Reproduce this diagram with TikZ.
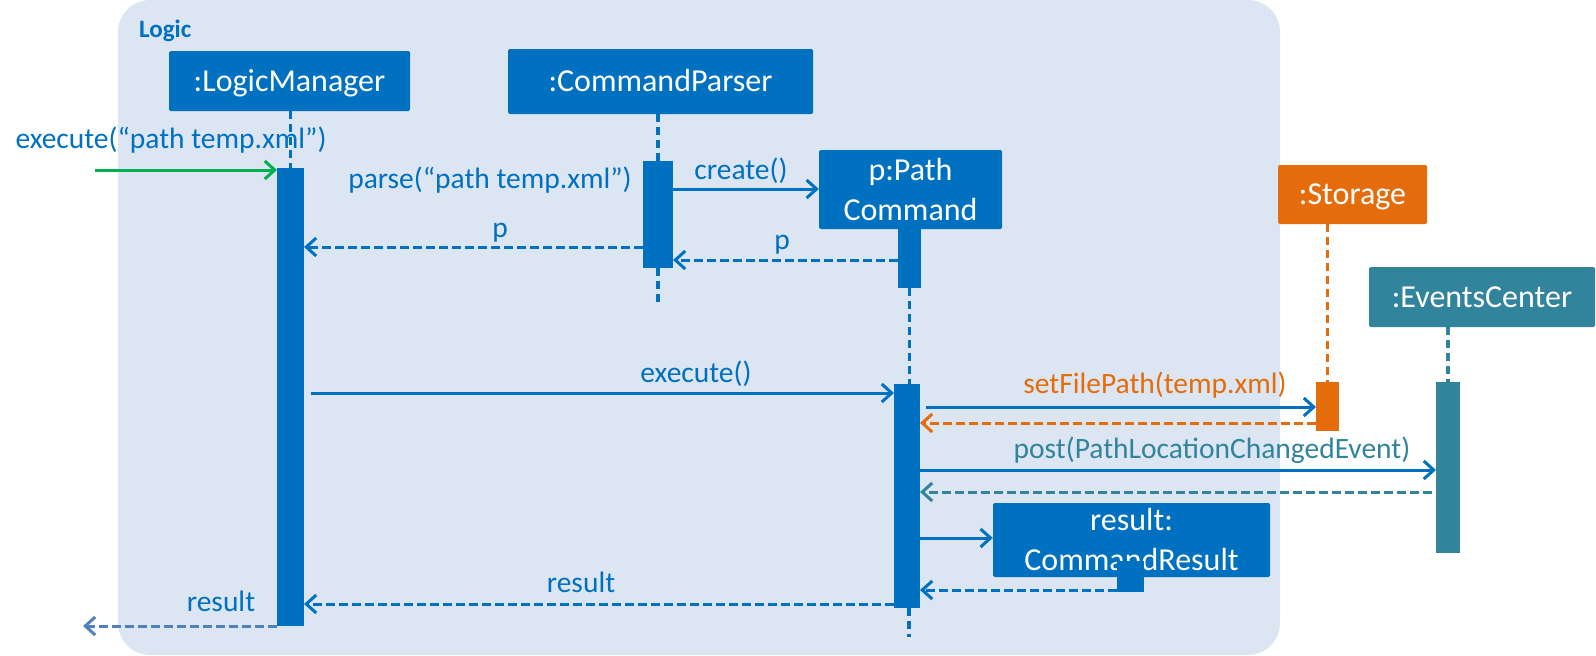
\documentclass[tikz,border=0pt]{standalone}
\usepackage{fontspec}
\setmainfont{Carlito}
\usetikzlibrary{arrows.meta,calc}
\definecolor{cblue}{HTML}{0070C0}
\definecolor{cbg}{HTML}{DCE6F2}
\definecolor{corange}{HTML}{E46C0A}
\definecolor{cteal}{HTML}{31849B}
\definecolor{cgreen}{HTML}{00B050}
\definecolor{clight}{HTML}{4F81BD}
\newcommand\boxfont{\fontsize{32}{40}\selectfont}
\newcommand\lblfont{\fontsize{29.5}{34}\selectfont}
\tikzset{
 box/.style={fill=cblue, text=white, font=\boxfont, inner sep=0pt, rounded corners=1.5pt},
 onel/.style={text height=22pt, text depth=2pt},
 bar/.style={fill=cblue, inner sep=0pt, outer sep=0pt},
 life/.style={draw=cblue, line width=3.2pt, dash pattern=on 8pt off 5pt},
 msg/.style={draw=cblue, line width=3pt, -{Straight Barb[length=10pt,width=18pt]}},
 ret/.style={msg, dash pattern=on 9pt off 4pt},
 lbl/.style={text=cblue, font=\lblfont, inner sep=0pt, anchor=base},
}
\begin{document}
\begin{tikzpicture}[x=1pt,y=-1pt]
\useasboundingbox (0,0) rectangle (1596,656);
\fill[cbg, rounded corners=32pt] (118,0) rectangle (1280,655);
\node[text=cblue, font=\fontsize{25}{30}\selectfont\bfseries, inner sep=0pt, anchor=base west] (logic) at (139,37) {Logic};

% heads
\node[box,onel,minimum width=241pt,minimum height=60pt] (lm) at (289.5,81) {:LogicManager};
\node[box,onel,minimum width=305pt,minimum height=65pt] (cp) at (660.5,81.5) {:CommandParser};
\node[box,align=center,minimum width=183pt,minimum height=79pt] (pc) at (910.5,189.5) {p:Path\\Command};
\node[box,onel,fill=corange,minimum width=149pt,minimum height=59pt] (st) at (1352.5,194.5) {:Storage};
\node[box,onel,fill=cteal,minimum width=226pt,minimum height=60pt] (ec) at (1482,297) {:EventsCenter};
\node[box,align=center,minimum width=277pt,minimum height=74pt] (res) at (1131.5,540) {result:\\CommandResult};

% activation bars
\node[bar,minimum width=27pt,minimum height=458pt] (lmbar) at (290.5,397) {};
\node[bar,minimum width=30pt,minimum height=107pt] (cpbar) at (658,214.5) {};
\node[bar,minimum width=23pt,minimum height=59pt] (pcbarA) at (909.5,258.5) {};
\node[bar,minimum width=26pt,minimum height=224pt] (pcbarB) at (907,496) {};
\node[bar,fill=corange,minimum width=23pt,minimum height=49pt] (stbar) at (1327.5,406.5) {};
\node[bar,fill=cteal,minimum width=24pt,minimum height=171pt] (ecbar) at (1448,467.5) {};
\node[bar,minimum width=27pt,minimum height=31pt] (resbar) at (1130.5,576.5) {};

\coordinate (cpend) at (658,302);
\coordinate (pcend) at (909,637);
\coordinate (start) at (95,170);
\coordinate (outend) at (83,626);

% lifelines
\draw[life] (lm.south -| lmbar.north) -- (lmbar.north);
\draw[life] (cp.south -| cpbar.north) -- (cpbar.north);
\draw[life] (cpbar.south) -- (cpend);
\draw[life] (pcbarA.south) -- (pcbarA.south |- pcbarB.north);
\draw[life] (pcbarB.south -| pcend) -- (pcend);
\draw[life, draw=corange] (st.south -| stbar.north) -- (stbar.north);
\draw[life, draw=cteal] (ec.south -| ecbar.north) -- (ecbar.north);

% messages
\draw[msg, draw=cgreen] (start) -- (lmbar.west |- start);
\node[lbl] (lexec) at (171,148) {execute(“path temp.xml”)};
\node[lbl] (lparse) at (490,188) {parse(“path temp.xml”)};
\draw[msg] (cpbar.east |- 0,189) -- (pc.west |- 0,189);
\node[lbl] (lcreate) at (741,179) {create()};
\draw[ret] (cpbar.west |- 0,247) -- (lmbar.east |- 0,247);
\node[lbl] (lp1) at (500,237) {p};
\draw[ret] (pcbarA.west |- 0,260) -- (cpbar.east |- 0,260);
\node[lbl] (lp2) at (782,249) {p};
\draw[msg] ($(lmbar.east |- 0,393)+(7,0)$) -- (pcbarB.west |- 0,393);
\node[lbl] (lexe2) at (696,382) {execute()};
\draw[msg] ($(pcbarB.east |- 0,407)+(6,0)$) -- (stbar.west |- 0,407);
\node[lbl, text=corange] (lset) at (1155,393) {setFilePath(temp.xml)};
\draw[ret, draw=corange] (stbar.west |- 0,423) -- (pcbarB.east |- 0,423);
\draw[msg] (pcbarB.east |- 0,470) -- (ecbar.west |- 0,470);
\node[lbl, text=cteal] (lpost) at (1212,458) {post(PathLocationChangedEvent)};
\draw[ret, draw=cteal] ($(ecbar.west |- 0,492)+(-4,0)$) -- (pcbarB.east |- 0,492);
\draw[msg] (pcbarB.east |- 0,538) -- (res.west |- 0,538);
\draw[ret] (resbar.west |- 0,590) -- (pcbarB.east |- 0,590);
\draw[ret] (pcbarB.west |- 0,604) -- (lmbar.east |- 0,604);
\node[lbl] (lres1) at (581,592) {result};
\draw[ret, draw=clight] (lmbar.west |- 0,626) -- (outend);
\node[lbl] (lres2) at (221,611) {result};
\end{tikzpicture}
\end{document}
